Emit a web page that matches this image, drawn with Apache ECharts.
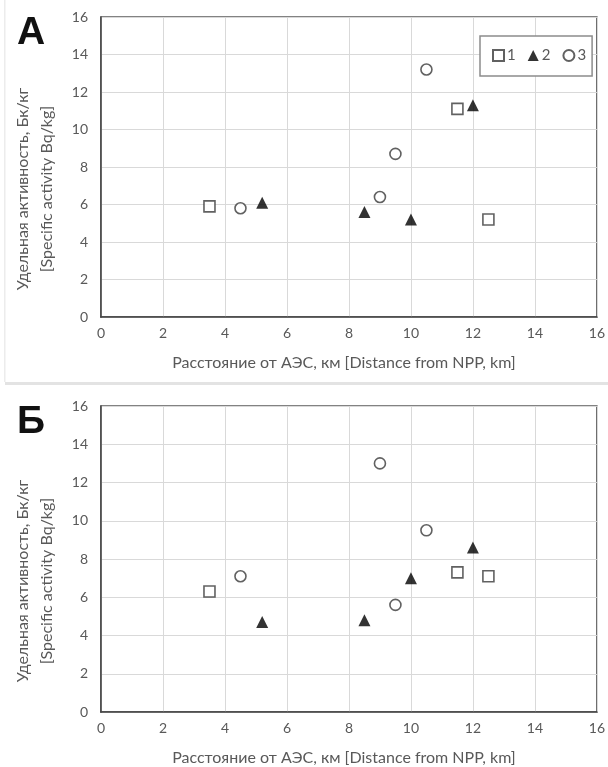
<!DOCTYPE html>
<html>
<head>
<meta charset="utf-8">
<script src="https://cdn.jsdelivr.net/npm/echarts@6/dist/echarts.min.js"></script>
<style>
html,body{margin:0;padding:0;background:#fff;}
#chart{width:608px;height:767px;}
</style>
</head>
<body>
<div id="chart"></div>
<script>
// Panel A data [distance km, activity Bq/kg]
const a1 = [[3.5, 5.9], [11.5, 11.1], [12.5, 5.2]];
const a2 = [[5.2, 6.1], [8.5, 5.6], [10, 5.2], [12, 11.3]];
const a3 = [[4.5, 5.8], [9, 6.4], [9.5, 8.7], [10.5, 13.2]];
// Panel B data
const b1 = [[3.5, 6.3], [11.5, 7.3], [12.5, 7.1]];
const b2 = [[5.2, 4.7], [8.5, 4.8], [10, 7.0], [12, 8.6]];
const b3 = [[4.5, 7.1], [9, 13.0], [9.5, 5.6], [10.5, 9.5]];
const seriesNames = ['1', '2', '3'];
const panelLetters = ['А', 'Б'];
const xTitle = 'Расстояние от АЭС, км [Distance from NPP, km]';
const yTitle = 'Удельная активность, Бк/кг\n[Specific activity Bq/kg]';

const FONT = 'Lato';
const GRAY = '#595959';

const chart = echarts.init(document.getElementById('chart'), null, {renderer: 'canvas'});

function xAxis(gi) {
  return {
    type: 'value', gridIndex: gi, min: 0, max: 16, interval: 2,
    name: xTitle, nameLocation: 'middle', nameGap: 38,
    nameTextStyle: {color: GRAY, fontFamily: FONT, fontSize: 16, padding: [0, 10, 0, 0]},
    axisLine: {show: true, lineStyle: {color: '#404040', width: 1.5}},
    axisTick: {show: false},
    axisLabel: {color: GRAY, fontFamily: FONT, fontSize: 14, margin: 9},
    splitLine: {show: true, lineStyle: {color: '#d9d9d9', width: 1}}
  };
}
function yAxis(gi) {
  return {
    type: 'value', gridIndex: gi, min: 0, max: 16, interval: 2,
    axisLine: {show: true, lineStyle: {color: '#404040', width: 1.5}},
    axisTick: {show: false},
    axisLabel: {color: GRAY, fontFamily: FONT, fontSize: 14, margin: 13},
    splitLine: {show: true, lineStyle: {color: '#d9d9d9', width: 1}}
  };
}
const hollow = {color: '#fff', borderColor: '#3a3a3a', borderWidth: 1.6};
function mk(name, data, gi, kind) {
  const s = {
    name: name, type: 'scatter', xAxisIndex: gi, yAxisIndex: gi, data: data,
    symbolSize: 11, z: 5
  };
  if (kind === 0) { s.symbol = 'rect'; s.itemStyle = hollow; }
  else if (kind === 1) { s.symbol = 'triangle'; s.symbolSize = 12; s.itemStyle = {color: '#000'}; }
  else { s.symbol = 'circle'; s.itemStyle = hollow; }
  return s;
}
function yTitleText(cy) {
  return {
    type: 'text', x: 35, y: cy, rotation: Math.PI / 2,
    style: {text: yTitle, font: '16px ' + FONT, fill: GRAY, align: 'center', verticalAlign: 'middle', lineHeight: 24}
  };
}

const option = {
  backgroundColor: '#fff',
  animation: false,
  grid: [
    {left: 101, top: 17, width: 496, height: 300, show: true, borderColor: '#5a5a5a', borderWidth: 1.5, backgroundColor: 'transparent'},
    {left: 101, top: 406, width: 496, height: 308, show: true, borderColor: '#5a5a5a', borderWidth: 1.5, backgroundColor: 'transparent'}
  ],
  xAxis: [xAxis(0), xAxis(1)],
  yAxis: [yAxis(0), yAxis(1)],
  legend: {
    data: seriesNames, left: 480, top: 36, orient: 'horizontal',
    itemWidth: 11, itemHeight: 11, itemGap: 12,
    padding: [12, 6, 13, 12],
    borderColor: '#8c8c8c', borderWidth: 1.5, backgroundColor: '#fff',
    textStyle: {color: GRAY, fontFamily: FONT, fontSize: 15, padding: [0, 0, 0, -2]}
  },
  graphic: [
    {type: 'text', left: 17, top: 14, style: {text: panelLetters[0], font: 'bold 39px "Liberation Sans"', fill: '#111'}},
    {type: 'text', left: 17, top: 403, style: {text: panelLetters[1], font: 'bold 39px "Liberation Sans"', fill: '#111'}},
    {type: 'rect', shape: {x: 5, y: 382, width: 603, height: 3}, style: {fill: '#e3e3e3'}},
    {type: 'rect', shape: {x: 4, y: 0, width: 1.5, height: 382}, style: {fill: '#ececec'}},
    yTitleText(189),
    yTitleText(581)
  ],
  series: [
    mk(seriesNames[0], a1, 0, 0), mk(seriesNames[1], a2, 0, 1), mk(seriesNames[2], a3, 0, 2),
    mk(seriesNames[0], b1, 1, 0), mk(seriesNames[1], b2, 1, 1), mk(seriesNames[2], b3, 1, 2)
  ]
};
chart.setOption(option);
</script>
</body>
</html>
